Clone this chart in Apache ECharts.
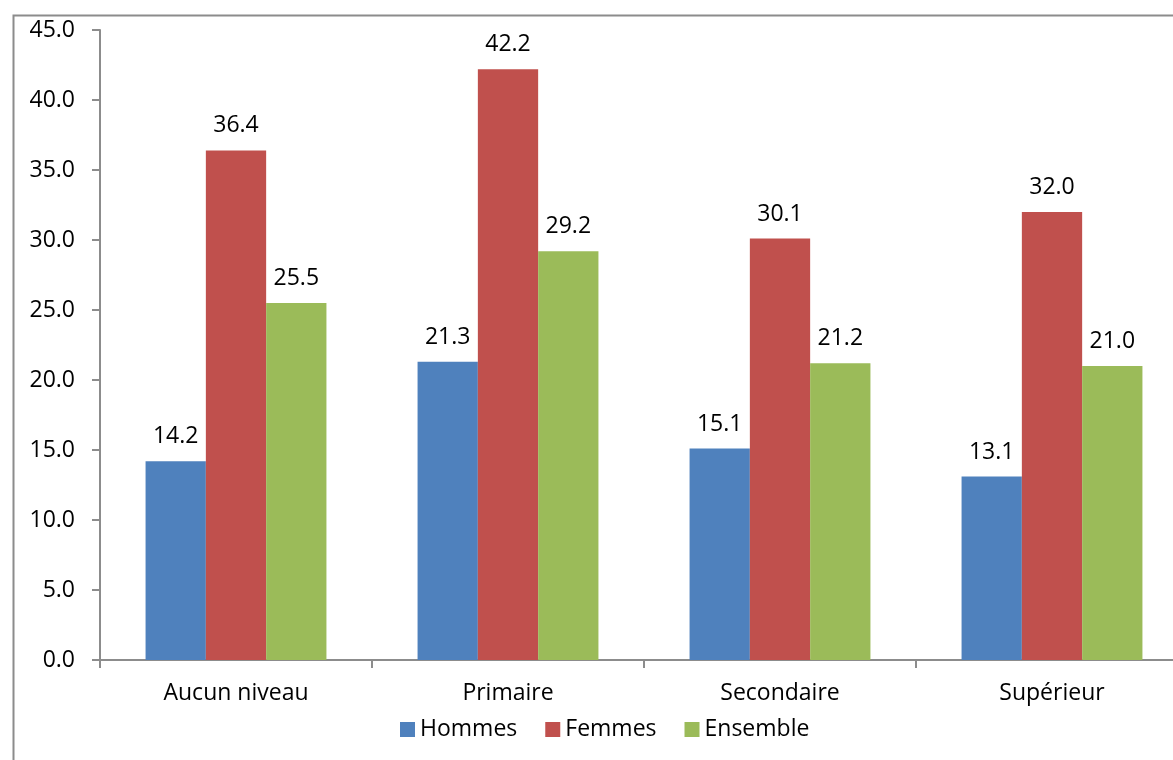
<!DOCTYPE html>
<html>
<head>
<meta charset="utf-8">
<script src="https://cdn.jsdelivr.net/npm/echarts@6/dist/echarts.min.js"></script>
<style>
  html, body { margin: 0; padding: 0; background: #fff; overflow: hidden; }
  #container { width: 1200px; height: 760px; }
</style>
</head>
<body>
<div id="container"></div>
<script>
// niveaux d'instruction
var categories = ['Aucun niveau', 'Primaire', 'Secondaire', 'Supérieur'];
var hommes = [14.2, 21.3, 15.1, 13.1];
var femmes = [36.4, 42.2, 30.1, 32.0];
var ensemble = [25.5, 29.2, 21.2, 21.0];

var font = '"Open Sans", "Noto Sans", sans-serif';

var myChart = echarts.init(document.getElementById('container'));

function barSerie(name, data, color) {
	return {
		name: name,
		type: 'bar',
		data: data,
		barGap: '0%',
		barCategoryGap: '33.5%',
		itemStyle: { color: color },
		label: {
			show: true,
			position: 'top',
			distance: 13,
			color: '#000',
			fontFamily: font,
			fontSize: 23,
			formatter: function (p) { return p.value.toFixed(1); }
		}
	};
}

var option = {
	animation: false,
	backgroundColor: '#fff',
	graphic: [{
		type: 'rect',
		left: 11,
		top: 13,
		shape: { width: 1220, height: 800 },
		style: { fill: 'none', stroke: '#8c8c8c', lineWidth: 2 },
		silent: true
	}],
	grid: {
		left: 100,
		top: 30,
		width: 1088,
		height: 630
	},
	legend: {
		data: ['Hommes', 'Femmes', 'Ensemble'],
		left: 395,
		top: 713,
		icon: 'rect',
		itemWidth: 15,
		itemHeight: 15,
		itemGap: 28,
		textStyle: { fontFamily: font, fontSize: 23, color: '#000' }
	},
	xAxis: {
		type: 'category',
		data: categories,
		axisLine: { lineStyle: { color: '#8c8c8c', width: 2 } },
		axisTick: { show: true, length: 8, lineStyle: { color: '#8c8c8c', width: 2 } },
		axisLabel: { color: '#000', fontFamily: font, fontSize: 23, margin: 22 }
	},
	yAxis: {
		type: 'value',
		min: 0,
		max: 45,
		interval: 5,
		splitLine: { show: false },
		axisLine: { show: true, lineStyle: { color: '#8c8c8c', width: 2 } },
		axisTick: { show: true, length: 8, lineStyle: { color: '#8c8c8c', width: 2 } },
		axisLabel: {
			color: '#000',
			fontFamily: font,
			fontSize: 23,
			margin: 25,
			formatter: function (v) { return v.toFixed(1); }
		}
	},
	series: [
		barSerie('Hommes', hommes, '#4F81BD'),
		barSerie('Femmes', femmes, '#C0504D'),
		barSerie('Ensemble', ensemble, '#9BBB59')
	]
};

myChart.setOption(option);
</script>
</body>
</html>
